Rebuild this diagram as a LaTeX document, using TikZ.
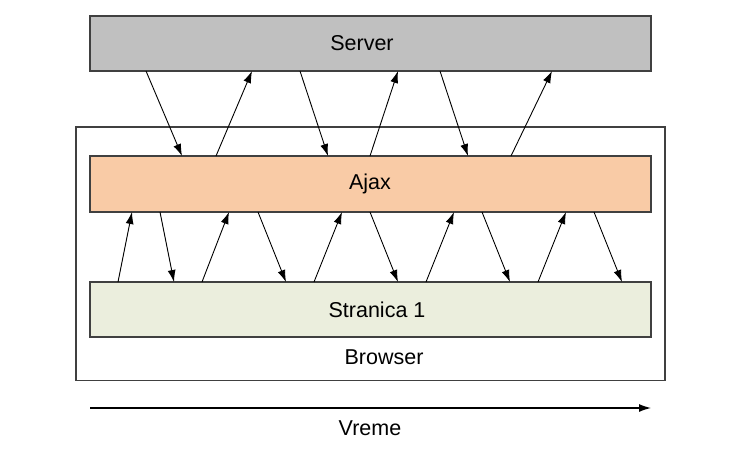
\documentclass[tikz,border=0pt]{standalone}
\usepackage{fontspec}
\setmainfont{Liberation Sans}
\usetikzlibrary{arrows.meta}
\definecolor{edgegray}{HTML}{404040}
\definecolor{servergray}{HTML}{C0C0C0}
\definecolor{ajaxorange}{HTML}{F9CBA6}
\definecolor{pagegreen}{HTML}{EBEEDD}
\begin{document}
\begin{tikzpicture}[x=1pt,y=-1pt,
  box/.style={draw=edgegray,line width=1.2pt,rectangle,inner sep=0pt,outer sep=0pt},
  lbl/.style={font=\fontsize{21.5}{24}\selectfont,inner sep=0pt},
  msg/.style={draw=black,line width=0.9pt,-{Latex[length=12pt,width=8pt]}}]
\useasboundingbox (0,0) rectangle (753,450);
\node[box,minimum width=589pt,minimum height=253.5pt] (browser) at (370.5,253.75) {};
\node[box,fill=servergray,minimum width=561pt,minimum height=55pt] (server) at (370.5,43.5) {};
\node[box,fill=ajaxorange,minimum width=561pt,minimum height=56pt] (ajax) at (370.5,184) {};
\node[box,fill=pagegreen,minimum width=561pt,minimum height=55pt] (page) at (370.5,309.5) {};
\node[lbl] (serverlbl) at (362,43.5) {Server};
\node[lbl] (ajaxlbl) at (370,184) {Ajax};
\node[lbl] (pagelbl) at (377,309.5) {Stranica 1};
\node[lbl] (browserlbl) at (384,357) {Browser};
\coordinate (t0) at (90,408);
\coordinate (t1) at (651,408);
\draw[msg,line width=1.2pt] (t0) -- (t1);
\node[lbl] (timelbl) at (370,428) {Vreme};
% Server <-> Ajax
\draw[msg] (146,0 |- server.south) -- (182,0 |- ajax.north);
\draw[msg] (216,0 |- ajax.north) -- (252,0 |- server.south);
\draw[msg] (300,0 |- server.south) -- (328,0 |- ajax.north);
\draw[msg] (370,0 |- ajax.north) -- (398,0 |- server.south);
\draw[msg] (440,0 |- server.south) -- (468,0 |- ajax.north);
\draw[msg] (511,0 |- ajax.north) -- (552,0 |- server.south);
% Ajax <-> Stranica
\draw[msg] (118,0 |- page.north) -- (132,0 |- ajax.south);
\draw[msg] (160,0 |- ajax.south) -- (174,0 |- page.north);
\draw[msg] (202,0 |- page.north) -- (229,0 |- ajax.south);
\draw[msg] (258,0 |- ajax.south) -- (286,0 |- page.north);
\draw[msg] (314,0 |- page.north) -- (342,0 |- ajax.south);
\draw[msg] (370,0 |- ajax.south) -- (398,0 |- page.north);
\draw[msg] (426,0 |- page.north) -- (454,0 |- ajax.south);
\draw[msg] (482,0 |- ajax.south) -- (510,0 |- page.north);
\draw[msg] (538,0 |- page.north) -- (566,0 |- ajax.south);
\draw[msg] (594,0 |- ajax.south) -- (622,0 |- page.north);
\end{tikzpicture}
\end{document}
